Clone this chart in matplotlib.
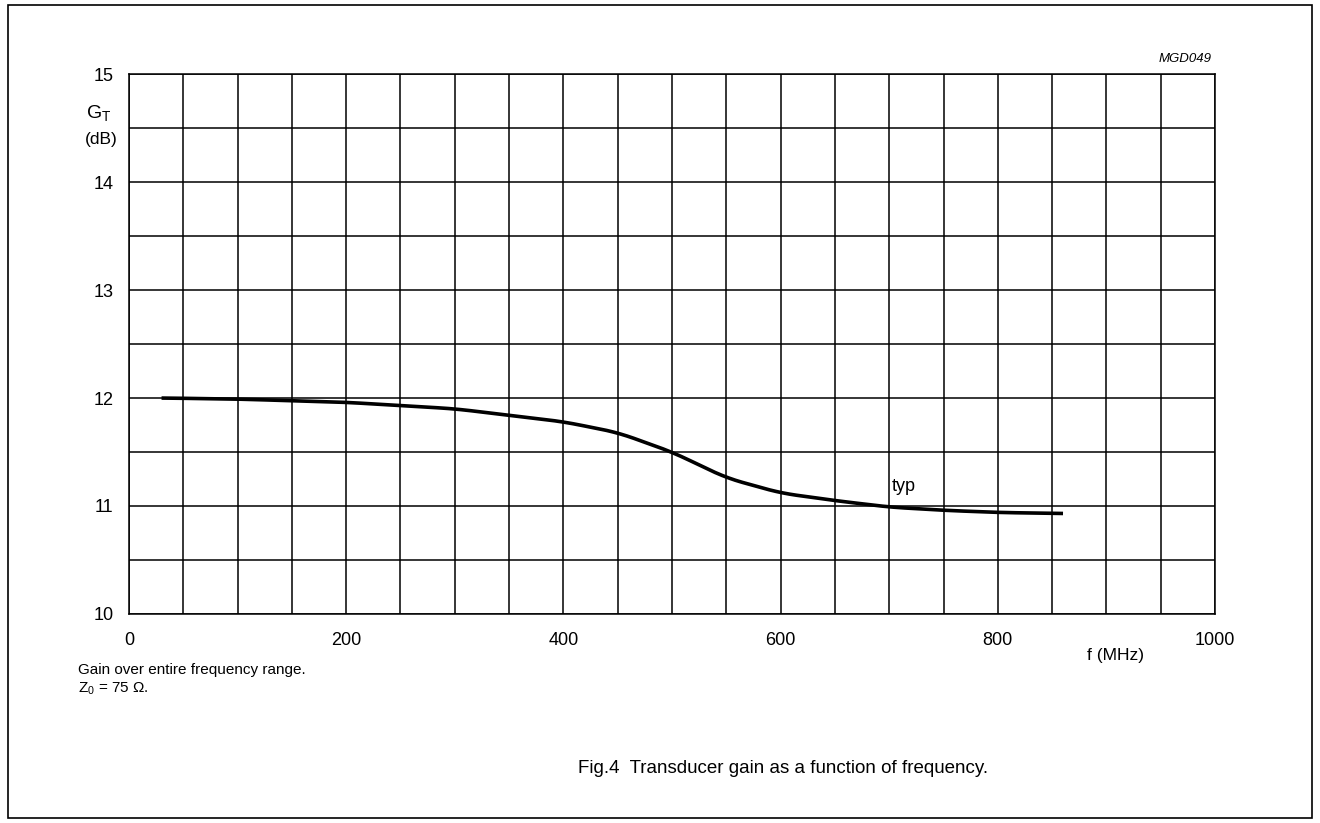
import numpy as np
import matplotlib.pyplot as plt
from matplotlib.patches import Rectangle

plt.rcParams['font.family'] = ['Liberation Sans', 'DejaVu Sans']

# curve
freq = [30, 100, 200, 300, 400, 450, 500, 550, 600, 650, 700, 750, 800, 860]
gain = [12.0, 11.99, 11.96, 11.9, 11.78, 11.68, 11.5, 11.26, 11.12, 11.05, 10.99, 10.96, 10.94, 10.93]
xticks = [0, 200, 400, 600, 800, 1000]
yticks = [10, 11, 12, 13, 14, 15]

fig = plt.figure(figsize=(13.2, 8.23), dpi=100)
ax = fig.add_axes([0.0977, 0.254, 0.8228, 0.656])

# smooth the read points a bit for drawing
fs = np.linspace(freq[0], freq[-1], 400)
gs = np.interp(fs, freq, gain)
k = np.ones(15) / 15
gs_s = np.convolve(np.pad(gs, 7, mode='edge'), k, mode='valid')
ax.plot(fs, gs_s, color='black', lw=2.6, solid_capstyle='butt')

ax.set_xlim(0, 1000)
ax.set_ylim(10, 15)
ax.set_xticks(xticks)
ax.set_yticks(yticks)
ax.set_xticks(np.arange(0, 1001, 50), minor=True)
ax.set_yticks(np.arange(10, 15.01, 0.5), minor=True)
ax.grid(True, which='both', color='black', lw=1.1)
ax.tick_params(which='both', length=0, labelsize=13)
ax.tick_params(axis='x', pad=13)
ax.tick_params(axis='y', pad=11)
for s in ax.spines.values():
    s.set_linewidth(1.1)

fig.text(0.065, 0.862, r'G$_\mathregular{T}$', fontsize=14, ha='left', va='center')
fig.text(0.064, 0.831, '(dB)', fontsize=12.5, ha='left', va='center')
fig.text(0.845, 0.204, 'f (MHz)', fontsize=12.5, ha='center', va='center')
fig.text(0.918, 0.921, 'MGD049', fontsize=9.5, style='italic', ha='right', va='bottom')
ax.text(713, 11.18, 'typ', fontsize=13, ha='center', va='center')

fig.text(0.059, 0.186, 'Gain over entire frequency range.', fontsize=11, va='center')
fig.text(0.059, 0.163, r'Z$_\mathregular{0}$ = 75 $\mathregular{\Omega}$.', fontsize=11, va='center')
fig.text(0.593, 0.066, 'Fig.4  Transducer gain as a function of frequency.', fontsize=13.5, ha='center', va='center')

fig.add_artist(Rectangle((0.006, 0.006), 0.988, 0.988, transform=fig.transFigure,
                         fill=False, edgecolor='black', lw=1.2))

fig.savefig('out.png', dpi=100)
